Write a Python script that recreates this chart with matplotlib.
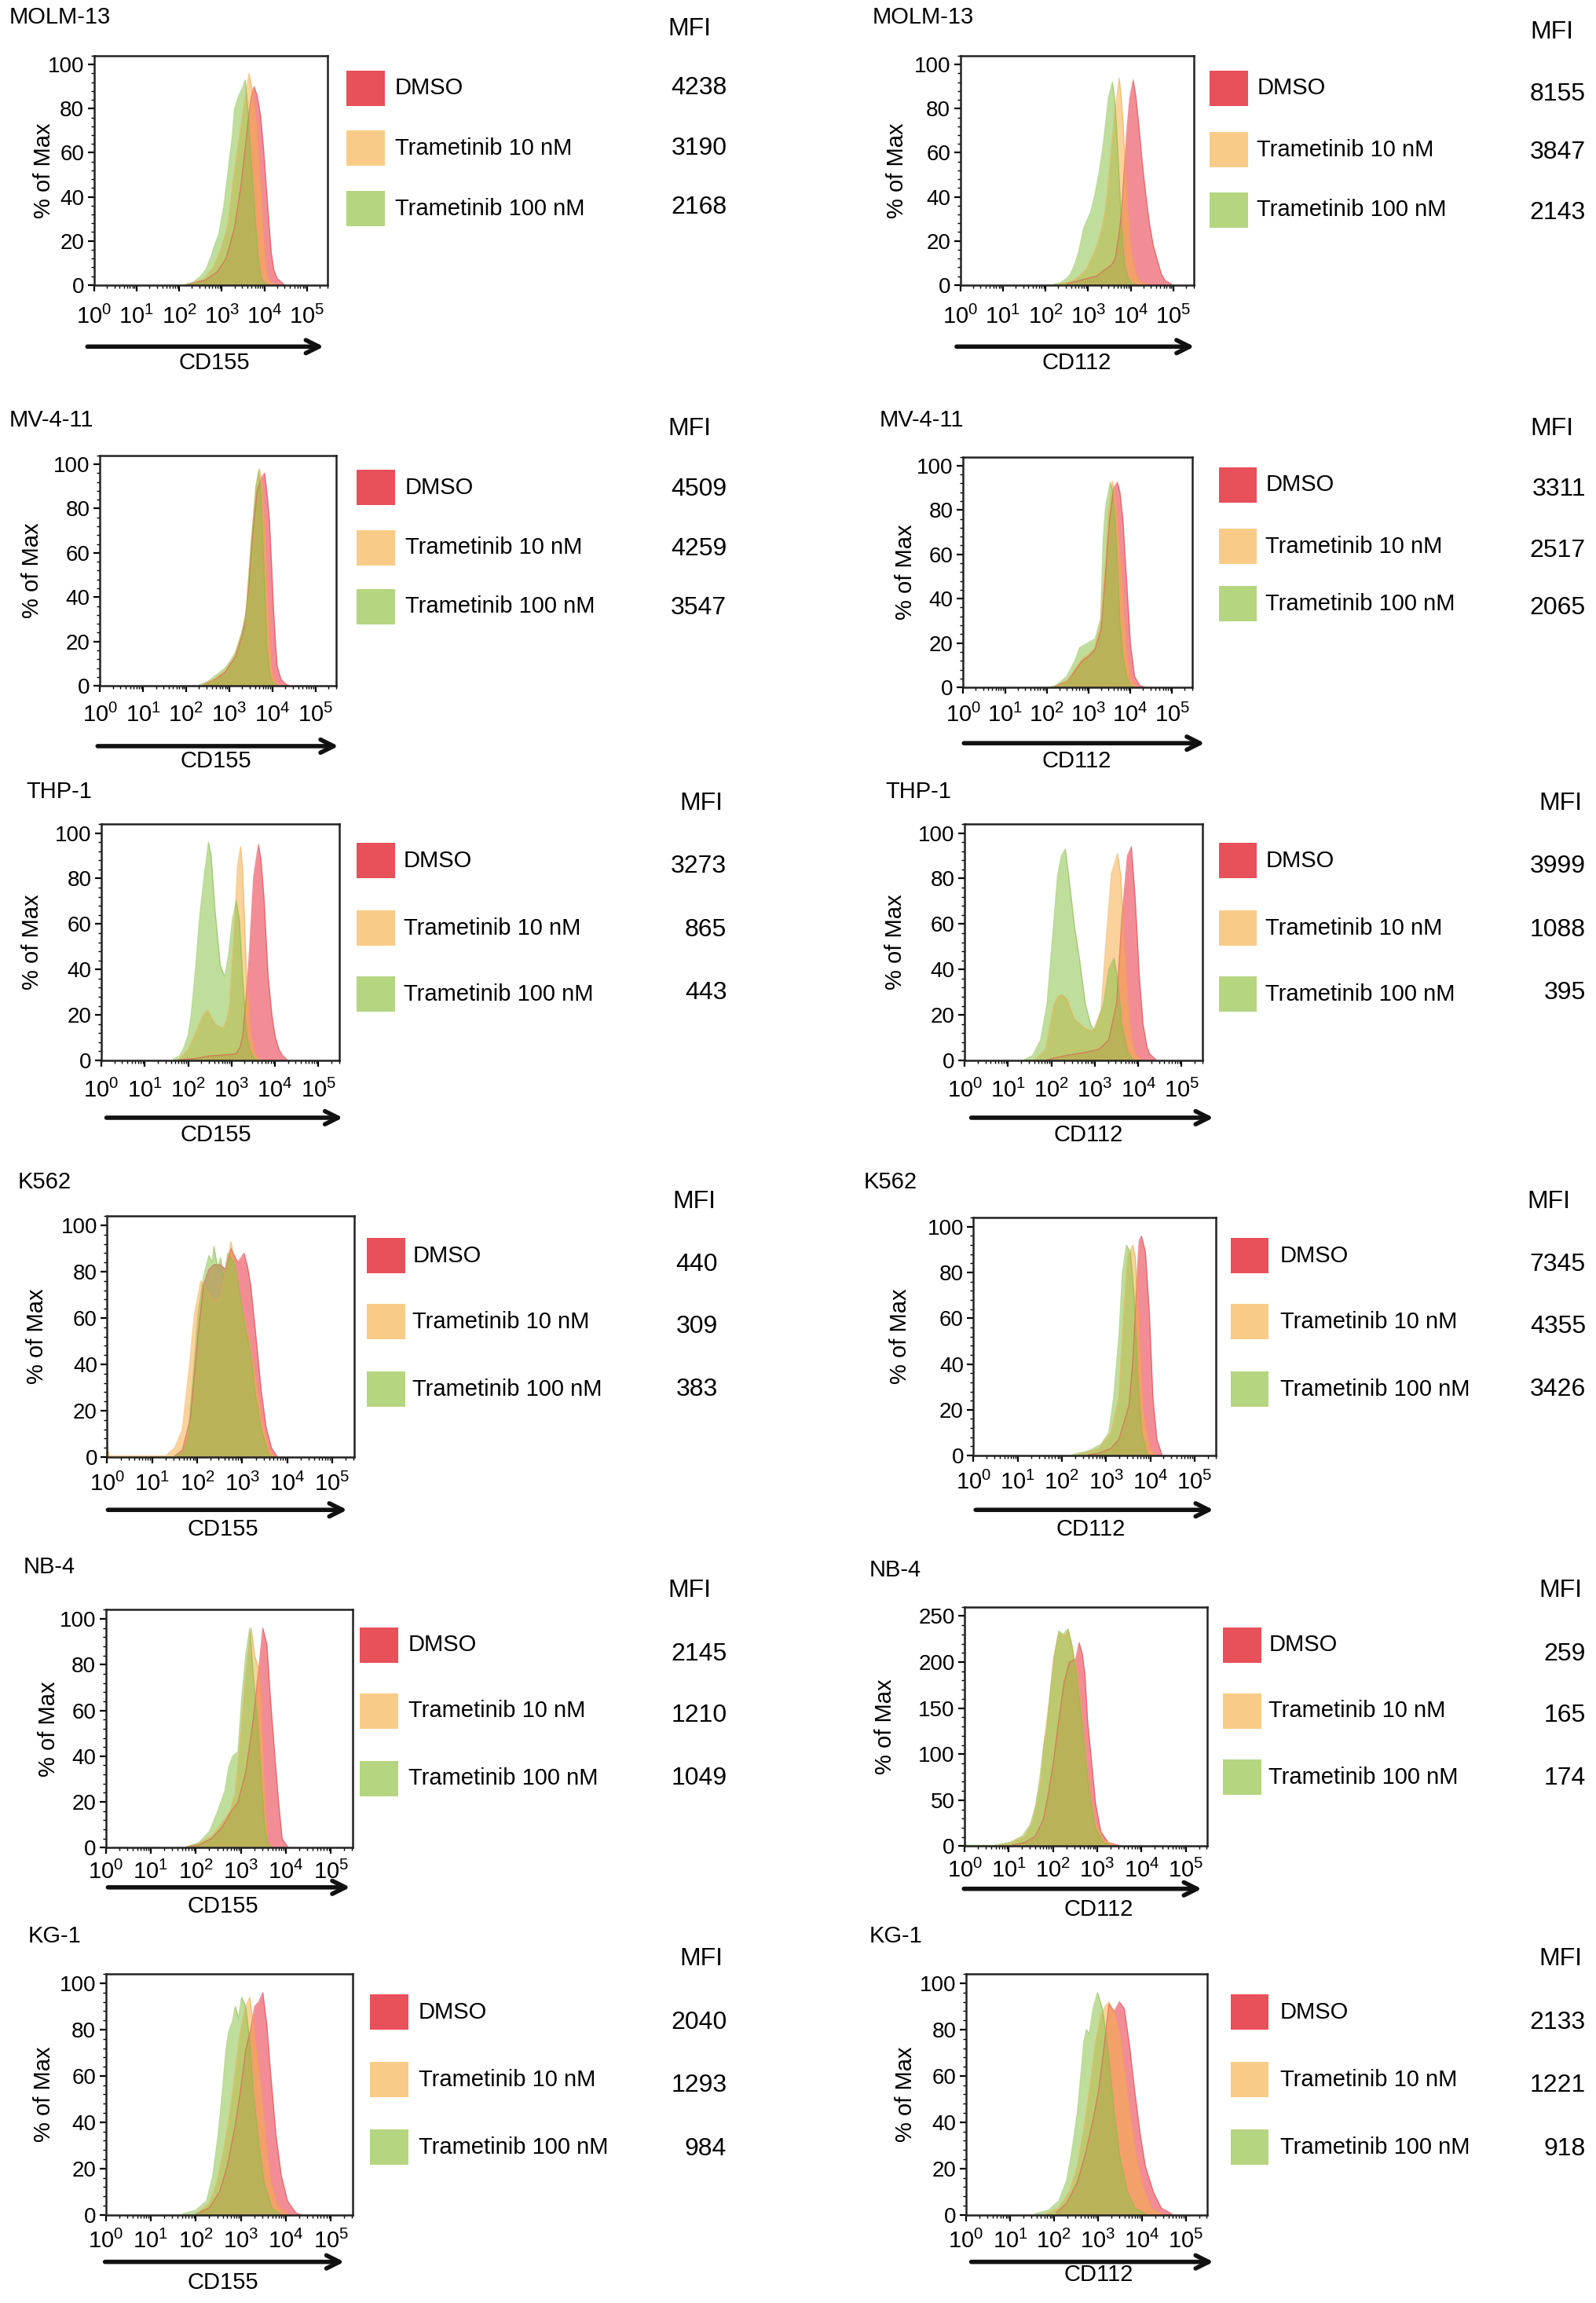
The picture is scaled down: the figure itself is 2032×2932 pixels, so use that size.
import matplotlib
matplotlib.use('Agg')
import matplotlib.pyplot as plt
from matplotlib.patches import Rectangle, FancyArrowPatch
from matplotlib.ticker import MultipleLocator, FixedLocator
import numpy as np

plt.rcParams['font.family'] = ['Liberation Sans', 'DejaVu Sans']
plt.rcParams['mathtext.fontset'] = 'custom'
plt.rcParams['mathtext.rm'] = 'Liberation Sans'
plt.rcParams['mathtext.default'] = 'regular'

# treatment groups and colours
groups = ['DMSO', 'Trametinib 10 nM', 'Trametinib 100 nM']
fill_colors = ['#e8303e', '#f5b04a', '#8cc24a']
edge_colors = ['#e0404c', '#f0a84a', '#88bb48']
swatch_colors = ['#e8505a', '#f8cc88', '#b5d580']

cell_lines = ['MOLM-13', 'MV-4-11', 'THP-1', 'K562', 'NB-4', 'KG-1']
markers = ['CD155', 'CD112']

# MFI values per cell line: CD155 (DMSO, 10 nM, 100 nM) and CD112
mfi_cd155 = [[4238, 3190, 2168], [4509, 4259, 3547], [3273, 865, 443],
             [440, 309, 383], [2145, 1210, 1049], [2040, 1293, 984]]
mfi_cd112 = [[8155, 3847, 2143], [3311, 2517, 2065], [3999, 1088, 395],
             [7345, 4355, 3426], [259, 165, 174], [2133, 1221, 918]]

# histogram outlines: (log10 intensity, % of max)
molm13_cd155_dmso = [(2.2, 0.5), (2.6, 2), (2.9, 6), (3.1, 12), (3.3, 26), (3.45, 45), (3.55, 62),
                     (3.65, 80), (3.72, 88), (3.76, 90), (3.83, 86), (3.91, 77), (3.98, 62), (4.04, 46),
                     (4.1, 30), (4.16, 15), (4.22, 7), (4.3, 3), (4.45, 0.5)]
molm13_cd155_10nm = [(2.3, 0.5), (2.6, 3), (2.8, 8), (3.0, 17), (3.15, 28), (3.3, 52), (3.45, 72),
                     (3.55, 85), (3.64, 96), (3.72, 88), (3.8, 75), (3.87, 55), (3.94, 33), (4.0, 15),
                     (4.06, 4), (4.15, 1), (4.3, 0)]
molm13_cd155_100nm = [(2.1, 0), (2.32, 1), (2.5, 4), (2.63, 7), (2.75, 13), (2.81, 17), (2.93, 23),
                      (3.05, 36), (3.15, 52), (3.25, 68), (3.3, 80), (3.4, 86), (3.5, 90), (3.55, 93),
                      (3.62, 78), (3.67, 62), (3.73, 45), (3.79, 28), (3.85, 14), (3.91, 4), (4.0, 1),
                      (4.1, 0)]

molm13_cd112_dmso = [(2.5, 0.5), (2.8, 2), (3.0, 3), (3.2, 4), (3.4, 7), (3.55, 9), (3.64, 12),
                     (3.72, 22), (3.78, 32), (3.85, 52), (3.92, 72), (3.98, 85), (4.06, 93), (4.12, 86),
                     (4.2, 71), (4.26, 58), (4.32, 47), (4.38, 37), (4.44, 28), (4.53, 18), (4.63, 11),
                     (4.72, 5), (4.81, 2), (4.95, 0.5)]
molm13_cd112_10nm = [(2.3, 0.5), (2.5, 1), (2.65, 2), (2.8, 4), (2.96, 7), (3.15, 15), (3.25, 20),
                     (3.33, 26), (3.4, 33), (3.48, 46), (3.55, 62), (3.64, 80), (3.73, 94), (3.78, 85),
                     (3.83, 71), (3.89, 47), (3.94, 30), (3.98, 20), (4.06, 9), (4.14, 4), (4.25, 1),
                     (4.38, 0.5)]
molm13_cd112_100nm = [(2.2, 0.3), (2.35, 1), (2.5, 3), (2.59, 5), (2.7, 10), (2.78, 15), (2.9, 26),
                      (3.06, 33), (3.15, 40), (3.27, 52), (3.35, 63), (3.4, 71), (3.48, 85), (3.57, 92),
                      (3.62, 85), (3.67, 71), (3.72, 52), (3.77, 33), (3.82, 18), (3.86, 9), (3.93, 4),
                      (4.0, 1.5), (4.1, 0.3)]

mv411_cd155_dmso = [(2.4, 0.5), (2.66, 3), (2.9, 6), (3.14, 13), (3.29, 22), (3.35, 27), (3.45, 45),
                    (3.55, 70), (3.65, 88), (3.75, 94), (3.82, 96), (3.88, 86), (3.93, 75), (3.98, 55),
                    (4.02, 37), (4.07, 20), (4.11, 9), (4.2, 3), (4.3, 1), (4.4, 0)]
mv411_cd155_10nm = [(2.4, 0.5), (2.66, 3), (2.9, 7), (3.14, 14), (3.29, 24), (3.39, 32), (3.51, 65),
                    (3.62, 90), (3.7, 98), (3.76, 90), (3.82, 72), (3.87, 45), (3.93, 20), (3.99, 5),
                    (4.1, 0.5)]
mv411_cd155_100nm = [(2.3, 0.5), (2.5, 2), (2.7, 5), (2.9, 8), (3.02, 11), (3.14, 15), (3.29, 24),
                     (3.39, 33), (3.51, 65), (3.62, 90), (3.68, 97), (3.73, 88), (3.78, 65), (3.83, 40),
                     (3.87, 18), (3.93, 7), (3.99, 2), (4.1, 0.3)]

mv411_cd112_dmso = [(2.2, 0.5), (2.5, 3), (2.7, 8), (2.85, 12), (3.0, 14), (3.15, 17), (3.3, 26),
                    (3.4, 50), (3.5, 75), (3.6, 90), (3.69, 92.5), (3.75, 88), (3.82, 76), (3.91, 48),
                    (4.0, 20), (4.1, 5), (4.22, 1), (4.35, 0)]
mv411_cd112_10nm = [(2.2, 0.5), (2.5, 3), (2.7, 9), (2.85, 13), (3.0, 15), (3.15, 18), (3.3, 30),
                    (3.4, 55), (3.48, 80), (3.57, 93), (3.64, 85), (3.72, 67), (3.78, 50), (3.85, 29),
                    (3.91, 15), (3.97, 7), (4.05, 2), (4.15, 0.3)]
mv411_cd112_100nm = [(2.1, 0.3), (2.23, 1), (2.48, 5), (2.67, 12), (2.79, 18), (2.98, 20), (3.16, 22),
                     (3.29, 31), (3.35, 67), (3.41, 82), (3.52, 92.5), (3.58, 88), (3.63, 76), (3.7, 52),
                     (3.75, 29), (3.82, 14), (3.91, 5), (4.0, 1), (4.1, 0)]

thp1_cd155_dmso = [(1.8, 0.3), (2.2, 1), (2.5, 2), (2.9, 2.5), (3.11, 3), (3.2, 6), (3.26, 11),
                   (3.35, 31), (3.41, 47), (3.51, 81), (3.62, 95), (3.68, 88), (3.75, 71), (3.84, 38),
                   (3.93, 20), (4.0, 11), (4.09, 5), (4.18, 2), (4.27, 0.5)]
thp1_cd155_10nm = [(1.77, 0), (2.01, 5), (2.15, 11), (2.26, 16), (2.35, 20), (2.44, 22), (2.53, 19),
                   (2.62, 16), (2.8, 14), (2.9, 18), (2.96, 25), (3.05, 53), (3.14, 86), (3.21, 94),
                   (3.25, 85), (3.28, 71), (3.35, 35), (3.44, 11), (3.52, 4), (3.6, 1), (3.7, 0)]
thp1_cd155_100nm = [(1.65, 0.5), (1.8, 2), (1.89, 5), (2.0, 11), (2.07, 20), (2.17, 40), (2.26, 62),
                    (2.37, 81), (2.47, 96), (2.53, 90), (2.62, 66), (2.74, 42), (2.84, 37), (2.93, 46),
                    (3.02, 62), (3.11, 70), (3.18, 62), (3.26, 35), (3.35, 11), (3.42, 5), (3.48, 2),
                    (3.6, 0)]

thp1_cd112_dmso = [(1.9, 0.3), (2.29, 2), (2.6, 3), (2.9, 4), (3.1, 5), (3.32, 9), (3.5, 25),
                   (3.62, 62), (3.75, 90), (3.84, 94), (3.93, 71), (4.02, 38), (4.11, 16), (4.2, 6),
                   (4.26, 3), (4.41, 0.3)]
thp1_cd112_10nm = [(1.62, 0.3), (1.87, 5), (2.05, 24), (2.15, 28), (2.23, 29), (2.35, 27), (2.53, 18),
                   (2.78, 14), (2.96, 13), (3.14, 22), (3.26, 53), (3.38, 82), (3.52, 91), (3.6, 81),
                   (3.68, 47), (3.78, 20), (3.85, 8), (3.93, 3), (4.05, 0.3)]
thp1_cd112_100nm = [(1.38, 0.5), (1.56, 2), (1.75, 9), (1.9, 25), (2.02, 53), (2.14, 81), (2.23, 90),
                    (2.32, 93), (2.41, 79), (2.53, 59), (2.65, 44), (2.78, 25), (2.9, 16), (2.99, 13),
                    (3.08, 18), (3.2, 25), (3.32, 40), (3.44, 45), (3.53, 35), (3.62, 16), (3.75, 4),
                    (3.87, 0.5)]

k562_cd155_dmso = [(1.5, 0.5), (1.67, 3), (1.85, 17), (2.02, 53), (2.14, 74), (2.26, 81), (2.37, 83),
                   (2.52, 83), (2.63, 81), (2.75, 90), (2.9, 84), (3.04, 88), (3.12, 82), (3.19, 74),
                   (3.3, 53), (3.42, 29), (3.53, 13), (3.65, 4), (3.77, 0.5)]
k562_cd155_10nm = [(0.0, 5), (0.04, 0.5), (1.3, 0.5), (1.5, 4), (1.67, 12), (1.82, 38), (1.94, 62),
                   (2.08, 76), (2.26, 70), (2.37, 67), (2.52, 69), (2.63, 81), (2.75, 93), (2.84, 83),
                   (2.95, 69), (3.13, 53), (3.3, 33), (3.42, 17), (3.59, 3), (3.7, 0.5)]
k562_cd155_100nm = [(1.5, 0.5), (1.67, 2), (1.79, 8), (1.91, 35), (2.02, 62), (2.14, 78), (2.26, 87),
                    (2.33, 84), (2.37, 91), (2.45, 82), (2.52, 86), (2.58, 77), (2.68, 88), (2.75, 86),
                    (2.84, 83), (2.95, 70), (3.07, 56), (3.19, 44), (3.3, 26), (3.42, 12), (3.59, 1),
                    (3.7, 0)]

k562_cd112_dmso = [(2.6, 0.3), (2.83, 1), (3.1, 3), (3.29, 7), (3.52, 22), (3.6, 40), (3.66, 62),
                   (3.72, 85), (3.75, 94), (3.8, 96), (3.89, 89), (3.98, 62), (4.06, 25), (4.15, 7),
                   (4.26, 0.5)]
k562_cd112_10nm = [(2.37, 0.5), (2.83, 3), (3.11, 10), (3.29, 25), (3.4, 62), (3.49, 87), (3.6, 92),
                   (3.66, 87), (3.75, 52), (3.83, 20), (3.98, 3), (4.1, 0.3)]
k562_cd112_100nm = [(2.25, 0.5), (2.6, 2), (2.89, 5), (3.06, 10), (3.17, 25), (3.29, 52), (3.37, 80),
                    (3.46, 92), (3.55, 89), (3.63, 71), (3.72, 34), (3.8, 11), (3.92, 1), (4.0, 0)]

nb4_cd155_dmso = [(1.8, 0.5), (2.06, 1), (2.35, 4), (2.59, 9), (2.76, 15), (2.94, 20), (3.11, 33),
                  (3.28, 56), (3.4, 78), (3.49, 96), (3.58, 89), (3.66, 65), (3.75, 42), (3.84, 20),
                  (3.92, 4), (4.04, 0.5)]
nb4_cd155_10nm = [(1.8, 0.5), (2.06, 2), (2.35, 5), (2.59, 11), (2.76, 16), (2.88, 24), (2.99, 47),
                  (3.11, 75), (3.23, 96), (3.31, 84), (3.4, 78), (3.46, 56), (3.53, 20), (3.6, 2),
                  (3.7, 0)]
nb4_cd155_100nm = [(1.83, 0.5), (2.06, 2), (2.3, 7), (2.47, 15), (2.65, 25), (2.73, 35), (2.82, 40),
                   (2.94, 42), (3.02, 65), (3.11, 84), (3.2, 96), (3.28, 75), (3.37, 56), (3.46, 29),
                   (3.53, 9), (3.6, 2), (3.7, 0)]

nb4_cd112_dmso = [(1.07, 1), (1.36, 4), (1.6, 11), (1.78, 29), (1.89, 56), (2.01, 92), (2.13, 137),
                  (2.25, 178), (2.37, 200), (2.51, 203), (2.59, 221), (2.66, 209), (2.72, 187),
                  (2.78, 137), (2.87, 92), (2.96, 47), (3.08, 16), (3.25, 4), (3.49, 1)]
nb4_cd112_10nm = [(0.77, 1), (1.07, 4), (1.36, 11), (1.54, 27), (1.63, 47), (1.72, 70), (1.8, 115),
                  (1.92, 160), (2.01, 205), (2.13, 232), (2.25, 228), (2.34, 234), (2.43, 214),
                  (2.54, 191), (2.66, 137), (2.75, 92), (2.84, 56), (2.96, 25), (3.14, 7), (3.37, 1)]
nb4_cd112_100nm = [(0.0, 7), (0.04, 1), (0.65, 1), (1.01, 4), (1.3, 11), (1.48, 23), (1.6, 43),
                   (1.69, 70), (1.78, 106), (1.86, 128), (1.95, 173), (2.04, 209), (2.13, 234),
                   (2.22, 230), (2.34, 236), (2.43, 218), (2.54, 182), (2.66, 133), (2.75, 88),
                   (2.84, 52), (2.96, 20), (3.14, 4), (3.3, 1)]

kg1_cd155_dmso = [(2.01, 0.5), (2.3, 3), (2.53, 10), (2.7, 21), (2.88, 39), (2.99, 53), (3.11, 71),
                  (3.23, 81), (3.31, 90), (3.4, 92), (3.49, 96), (3.58, 82), (3.66, 62), (3.78, 35),
                  (3.9, 17), (4.04, 6), (4.22, 1), (4.35, 0)]
kg1_cd155_10nm = [(2.06, 1), (2.3, 5), (2.47, 14), (2.62, 28), (2.76, 44), (2.88, 62), (2.99, 79),
                  (3.11, 90), (3.2, 94), (3.28, 82), (3.4, 62), (3.52, 39), (3.63, 17), (3.81, 4),
                  (3.98, 1), (4.1, 0)]
kg1_cd155_100nm = [(1.72, 0.5), (2.0, 2), (2.24, 6), (2.38, 17), (2.5, 35), (2.59, 53), (2.67, 71),
                   (2.73, 79), (2.82, 84), (2.88, 90), (2.95, 85), (3.02, 94), (3.11, 90), (3.2, 75),
                   (3.28, 53), (3.4, 31), (3.52, 14), (3.69, 3), (3.87, 0.5)]

kg1_cd112_dmso = [(2.05, 1), (2.29, 5), (2.53, 14), (2.71, 26), (2.89, 41), (3.01, 53), (3.13, 71),
                  (3.25, 91), (3.37, 88), (3.49, 92), (3.6, 89), (3.72, 73), (3.84, 53), (3.96, 35),
                  (4.08, 21), (4.26, 10), (4.44, 3), (4.68, 0.5)]
kg1_cd112_10nm = [(1.81, 0.5), (2.11, 3), (2.35, 10), (2.53, 21), (2.68, 37), (2.83, 57), (2.95, 75),
                  (3.07, 86), (3.16, 90), (3.25, 92), (3.37, 87), (3.49, 78), (3.6, 62), (3.72, 44),
                  (3.84, 28), (3.99, 14), (4.2, 3), (4.44, 0.5)]
kg1_cd112_100nm = [(1.57, 0.5), (1.87, 2), (2.11, 6), (2.29, 15), (2.41, 28), (2.53, 44), (2.62, 62),
                   (2.68, 75), (2.74, 80), (2.8, 78), (2.89, 89), (2.99, 96), (3.1, 89), (3.19, 77),
                   (3.28, 62), (3.37, 44), (3.49, 26), (3.67, 10), (3.84, 3), (4.08, 0.5)]

curves_cd155 = [
    [molm13_cd155_dmso, molm13_cd155_10nm, molm13_cd155_100nm],
    [mv411_cd155_dmso, mv411_cd155_10nm, mv411_cd155_100nm],
    [thp1_cd155_dmso, thp1_cd155_10nm, thp1_cd155_100nm],
    [k562_cd155_dmso, k562_cd155_10nm, k562_cd155_100nm],
    [nb4_cd155_dmso, nb4_cd155_10nm, nb4_cd155_100nm],
    [kg1_cd155_dmso, kg1_cd155_10nm, kg1_cd155_100nm],
]
curves_cd112 = [
    [molm13_cd112_dmso, molm13_cd112_10nm, molm13_cd112_100nm],
    [mv411_cd112_dmso, mv411_cd112_10nm, mv411_cd112_100nm],
    [thp1_cd112_dmso, thp1_cd112_10nm, thp1_cd112_100nm],
    [k562_cd112_dmso, k562_cd112_10nm, k562_cd112_100nm],
    [nb4_cd112_dmso, nb4_cd112_10nm, nb4_cd112_100nm],
    [kg1_cd112_dmso, kg1_cd112_10nm, kg1_cd112_100nm],
]

# page layout in reference pixels (1087 x 1568 reduced scale)
W, H = 1087.0, 1568.0
# title(x,y), axes(x0,x1,top,bottom), ylabel x, arrow(x0,x1,y), xlabel(x,y),
# swatch x, row y's, legend text x, MFI label(x,y), MFI number right edge, number y's,
# pad = gap of the 10^n labels under the axis
layout_left = [
    dict(title=(6, 12), ax=(64, 223, 38, 194), ylab=30, arrow=(58, 222, 236), xlab=(146, 247),
         sw=236, rows=(60, 101, 142), tx=269, mfi=(455, 20), nx=495, ny=(60, 101, 141), pad=13),
    dict(title=(6, 286), ax=(68, 229, 310, 467), ylab=22, arrow=(65, 232, 508), xlab=(147, 518),
         sw=243, rows=(332, 373, 413), tx=276, mfi=(455, 292), nx=495, ny=(333, 374, 414), pad=10),
    dict(title=(18, 539), ax=(69, 231, 561, 722), ylab=22, arrow=(71, 235, 761), xlab=(147, 773),
         sw=243, rows=(586, 632, 677), tx=275, mfi=(463, 547), nx=495, ny=(590, 633, 676), pad=11),
    dict(title=(12, 805), ax=(73, 241, 828, 992), ylab=25, arrow=(72, 238, 1028), xlab=(152, 1041),
         sw=250, rows=(855, 900, 946), tx=281, mfi=(458, 818), nx=489, ny=(861, 903, 946), pad=8),
    dict(title=(16, 1067), ax=(72, 240, 1096, 1258), ylab=33, arrow=(72, 240, 1285), xlab=(152, 1298),
         sw=245, rows=(1120, 1165, 1211), tx=278, mfi=(455, 1083), nx=495, ny=(1126, 1168, 1211), pad=6),
    dict(title=(19, 1318), ax=(72, 240, 1344, 1508), ylab=30, arrow=(70, 236, 1540), xlab=(152, 1554),
         sw=252, rows=(1370, 1416, 1462), tx=285, mfi=(463, 1334), nx=495, ny=(1377, 1420, 1463), pad=8),
]
layout_right = [
    dict(title=(594, 12), ax=(654, 813, 38, 194), ylab=611, arrow=(650, 815, 236), xlab=(733, 247),
         sw=824, rows=(60, 102, 143), tx=856, mfi=(1042, 22), nx=1080, ny=(64, 104, 145), pad=13),
    dict(title=(599, 286), ax=(656, 812, 311, 468), ylab=617, arrow=(655, 822, 506), xlab=(733, 518),
         sw=830, rows=(330, 372, 411), tx=862, mfi=(1042, 292), nx=1080, ny=(333, 375, 414), pad=9),
    dict(title=(603, 539), ax=(657, 819, 561, 722), ylab=610, arrow=(660, 828, 761), xlab=(741, 773),
         sw=830, rows=(586, 632, 677), tx=862, mfi=(1048, 547), nx=1080, ny=(590, 633, 676), pad=11),
    dict(title=(588, 805), ax=(663, 828, 829, 991), ylab=613, arrow=(663, 828, 1028), xlab=(743, 1041),
         sw=838, rows=(855, 900, 946), tx=872, mfi=(1040, 818), nx=1080, ny=(861, 903, 946), pad=8),
    dict(title=(592, 1069), ax=(657, 822, 1094, 1257), ylab=603, arrow=(655, 820, 1286), xlab=(748, 1300),
         sw=833, rows=(1120, 1165, 1210), tx=864, mfi=(1048, 1083), nx=1080, ny=(1126, 1168, 1211), pad=6),
    dict(title=(592, 1318), ax=(658, 822, 1344, 1508), ylab=617, arrow=(660, 828, 1540), xlab=(748, 1549),
         sw=838, rows=(1370, 1416, 1462), tx=872, mfi=(1048, 1334), nx=1080, ny=(1377, 1420, 1463), pad=8),
]


def fx(x):
    return x / W


def fy(y):
    return 1 - y / H


fig = plt.figure(figsize=(20.32, 29.32), dpi=100)


def draw_panel(lay, name, marker, curves, mfi, ymax, ystep, yminor):
    x0, x1, top, bottom = lay['ax']
    ax = fig.add_axes([fx(x0), fy(bottom), fx(x1 - x0), (bottom - top) / H])
    for pts, fc, ec in zip(curves, fill_colors, edge_colors):
        xs = [p[0] for p in pts]
        ys = [p[1] for p in pts]
        ax.fill_between(xs, ys, 0, color=fc, alpha=0.55, lw=0)
        ax.plot(xs, ys, color=ec, lw=1.0, alpha=0.55)
    ax.set_xlim(0, 5.48)
    ax.set_ylim(0, ymax)
    ax.set_xticks(range(6))
    ax.set_xticklabels([r'$10^{%d}$' % k for k in range(6)], fontsize=21)
    minor = [np.log10(m) + d for d in range(6) for m in range(2, 10) if np.log10(m) + d < 5.48]
    ax.xaxis.set_minor_locator(FixedLocator(minor))
    ax.yaxis.set_major_locator(MultipleLocator(ystep))
    ax.yaxis.set_minor_locator(MultipleLocator(yminor))
    ax.tick_params(axis='both', which='major', length=6, width=1.6, pad=3)
    ax.tick_params(axis='y', which='major', labelsize=20)
    ax.tick_params(axis='x', which='major', labelsize=21, pad=lay['pad'])
    ax.tick_params(axis='both', which='minor', length=3, width=1.0)
    for s in ax.spines.values():
        s.set_linewidth(1.8)
        s.set_color('#222222')

    fig.text(fx(lay['title'][0]), fy(lay['title'][1]), name, fontsize=21, va='center', ha='left')
    fig.text(fx(lay['ylab']), fy((top + bottom) / 2), '% of Max', fontsize=21, rotation=90,
             va='center', ha='center')
    ax0, ax1, ay = lay['arrow']
    fig.add_artist(FancyArrowPatch((fx(ax0), fy(ay)), (fx(ax1), fy(ay)), transform=fig.transFigure,
                                   arrowstyle='->', mutation_scale=30, lw=4, color='#111111'))
    fig.text(fx(lay['xlab'][0]), fy(lay['xlab'][1]), marker, fontsize=21, ha='center', va='center')

    for i, g in enumerate(groups):
        cy = lay['rows'][i]
        fig.add_artist(Rectangle((fx(lay['sw']), fy(cy + 12)), 26 / W, 24 / H,
                                 transform=fig.transFigure, color=swatch_colors[i], lw=0))
        fig.text(fx(lay['tx']), fy(cy), g, fontsize=21, va='center', ha='left')
        fig.text(fx(lay['nx']), fy(lay['ny'][i]), str(mfi[i]), fontsize=23, va='center', ha='right')
    fig.text(fx(lay['mfi'][0]), fy(lay['mfi'][1]), 'MFI', fontsize=23, va='center', ha='left')


for i, name in enumerate(cell_lines):
    draw_panel(layout_left[i], name, 'CD155', curves_cd155[i], mfi_cd155[i], 104, 20, 4)
    if name == 'NB-4':
        draw_panel(layout_right[i], name, 'CD112', curves_cd112[i], mfi_cd112[i], 260, 50, 10)
    else:
        draw_panel(layout_right[i], name, 'CD112', curves_cd112[i], mfi_cd112[i], 104, 20, 4)

fig.savefig('out.png', dpi=100, facecolor='white')
